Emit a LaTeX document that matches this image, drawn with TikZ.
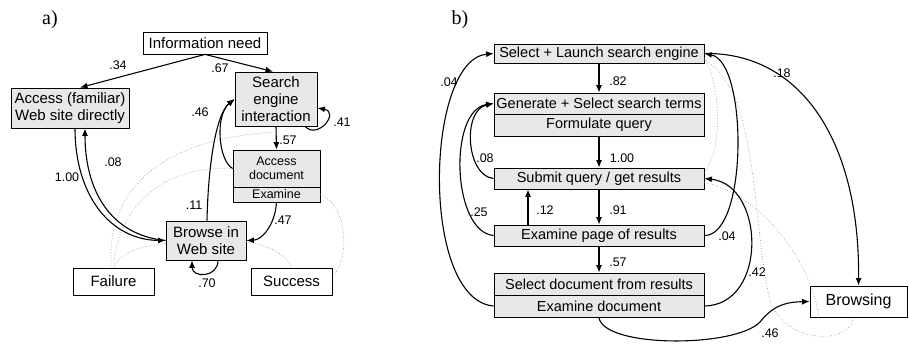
\documentclass[tikz,border=0pt]{standalone}
\usepackage{fontspec}
\setmainfont{Liberation Sans}
\newfontfamily\panelfont{Liberation Serif}
\usetikzlibrary{arrows.meta}
\begin{document}
\begin{tikzpicture}[x={(1pt,0pt)},y={(0pt,-1pt)},
  box/.style={draw=black,line width=0.8pt,inner sep=0pt,align=center,fill=white,font=\fontsize{15}{17}\selectfont},
  gbox/.style={box,fill=black!9},
  bbox/.style={gbox,font=\fontsize{14.5}{17}\selectfont,minimum width=210pt},
  lab/.style={inner sep=0pt,font=\fontsize{12.5}{14}\selectfont},
  conn/.style={line width=1.1pt,-{Latex[length=7.5pt,width=6pt]}},
  dots/.style={draw=black!40,line width=0.7pt,dotted}]
\useasboundingbox (0,0) rectangle (909,344);

% panel labels
\node[inner sep=0pt,font=\panelfont\fontsize{20}{22}\selectfont] (pa) at (50,20) {a)};
\node[inner sep=0pt,font=\panelfont\fontsize{20}{22}\selectfont] (pb) at (460,20) {b)};

% ---------- panel a nodes ----------
\node[box,minimum width=124pt,minimum height=22pt] (info) at (205,43) {Information need};
\node[gbox,minimum width=118pt,minimum height=40pt] (acc) at (70,108) {Access (familiar)\\Web site directly};
\node[gbox,minimum width=82pt,minimum height=54pt] (se) at (276,99) {Search\\engine\\interaction};
\node[gbox,minimum width=87pt,minimum height=37pt,font=\fontsize{12.5}{14}\selectfont] (adoc) at (276.5,168.5) {Access\\document};
\node[gbox,minimum width=87pt,minimum height=15pt,font=\fontsize{12.5}{14}\selectfont] (aex) at (276.5,194.5) {Examine};
\node[gbox,minimum width=80pt,minimum height=39pt] (brw) at (206,240.5) {Browse in\\Web site};
\node[box,minimum width=81pt,minimum height=27pt] (fail) at (113.5,281.5) {Failure};
\node[box,minimum width=81pt,minimum height=27pt] (succ) at (291.5,281.5) {Success};

% dotted arcs a
\draw[dots] ([xshift=-5pt,yshift=-6pt]se.south) .. controls (150,140) and (105,200) .. ([xshift=-2pt]fail.north);
\draw[dots] (adoc.west) .. controls (170,165) and (118,200) .. (fail.north);
\draw[dots] ([yshift=-3pt]brw.west) .. controls (135,247) and (117,255) .. ([xshift=1pt]fail.north);
\draw[dots] ([yshift=-1pt]brw.east) .. controls (268,245) and (287,255) .. (succ.north);
\draw[dots] (aex.east) .. controls (348,205) and (350,260) .. ([yshift=5pt]succ.east);

% connectors a
\draw[conn] (info.south) -- ([xshift=10pt]acc.north);
\draw[conn] (info.south) -- ([xshift=-3pt]se.north);
\draw[conn] ([xshift=5pt]acc.south) .. controls (75,195) and (110,240) .. (brw.west);
\draw[conn] (brw.west) .. controls (110,235) and (85,190) .. ([xshift=15pt]acc.south);
\draw[conn] ([xshift=1pt]brw.north) .. controls (208,170) and (215,115) .. (se.west);
\draw[conn] (adoc.west) .. controls (218,160) and (215,115) .. (se.west);
\draw[conn] (se.south) -- (adoc.north);
\draw[conn] (aex.south) .. controls (275,225) and (262,240) .. (brw.east);
\draw[conn] ([xshift=29pt]se.south) .. controls (318,140) and (340,112) .. ([yshift=-9pt]se.east);
\draw[conn] ([xshift=12pt]brw.south) .. controls (218,278) and (192,278) .. ([xshift=-14pt]brw.south);

% labels a
\node[lab] (l34) at (118,65) {.34};
\node[lab] (l67) at (220,68) {.67};
\node[lab] (l46) at (200,112) {.46};
\node[lab] (l57a) at (288,140) {.57};
\node[lab] (l41) at (342,122) {.41};
\node[lab] (l08a) at (113,162) {.08};
\node[lab] (l100a) at (67,177) {1.00};
\node[lab] (l11) at (194,205) {.11};
\node[lab] (l47) at (283,220) {.47};
\node[lab] (l70) at (207,283) {.70};

% ---------- panel b nodes ----------
\node[bbox,minimum height=19pt] (sl) at (599,53.5) {Select + Launch search engine};
\node[bbox,minimum height=21pt] (gen) at (599,103.5) {Generate + Select search terms};
\node[bbox,minimum height=22pt] (form) at (599,125) {Formulate query};
\node[bbox,minimum height=21pt] (sub) at (599,178.5) {Submit query / get results};
\node[bbox,minimum height=21pt] (exp) at (599,235.5) {Examine page of results};
\node[bbox,minimum height=22pt] (sdoc) at (599,284) {Select document from results};
\node[bbox,minimum height=22pt] (edoc) at (599,306) {Examine document};
\node[box,minimum width=97pt,minimum height=31pt,font=\fontsize{16}{18}\selectfont] (brows) at (858.5,301.5) {Browsing};

% dotted arcs b
\draw[dots] ([yshift=-4.5pt]sl.east) .. controls (722,90) and (722,150) .. ([yshift=6pt]sub.east);
\draw[dots] ([yshift=-6.5pt]sl.east) .. controls (760,90) and (752,230) .. (770,300) .. controls (785,345) and (850,345) .. ([xshift=-5pt]brows.south);
\draw[dots] ([yshift=-4pt]sub.east) .. controls (765,195) and (815,270) .. ([xshift=-40pt]brows.south);

% connectors b
\draw[conn] (sl.south) -- (gen.north);
\draw[conn] (form.south) -- (sub.north);
\draw[conn] (sub.south) -- (exp.north);
\draw[conn] ([xshift=-71pt]exp.north) -- ([xshift=-71pt]sub.south);
\draw[conn] (exp.south) -- (sdoc.north);
\draw[conn] (edoc.west) .. controls (420,300) and (425,60) .. (sl.west);
\draw[conn] (exp.west) .. controls (452,232) and (448,110) .. (gen.west);
\draw[conn] (sub.west) .. controls (466,176) and (462,110) .. (gen.west);
\draw[conn] (exp.east) .. controls (748,236) and (748,62) .. (sl.east);
\draw[conn] (edoc.east) .. controls (768,305) and (765,185) .. (sub.east);
\draw[conn] (sl.east) .. controls (800,52) and (860,140) .. (brows.north);
\draw[conn] (edoc.south) .. controls (603,348) and (735,348) .. (760,322) .. controls (775,303) and (790,302) .. (brows.west);

% labels b
\node[lab] (l04a) at (449,82) {.04};
\node[lab] (l82) at (618,81) {.82};
\node[lab] (l100b) at (622,158) {1.00};
\node[lab] (l08b) at (485,158) {.08};
\node[lab] (l12) at (545,210) {.12};
\node[lab] (l91) at (618,210) {.91};
\node[lab] (l25) at (479,212) {.25};
\node[lab] (l57b) at (618,262) {.57};
\node[lab] (l04b) at (727,236) {.04};
\node[lab] (l42) at (757,272) {.42};
\node[lab] (l18) at (782,73) {.18};
\node[lab] (l46b) at (770,333) {.46};
\end{tikzpicture}
\end{document}
